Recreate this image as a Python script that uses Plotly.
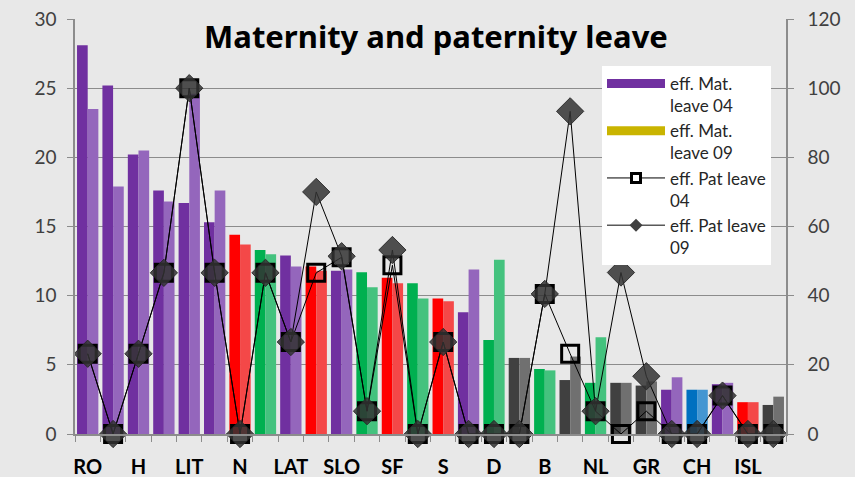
import plotly.graph_objects as go

# ---- data -------------------------------------------------------------
n_cat = 28
tick_labels = ["RO", "H", "LIT", "N", "LAT", "SLO", "SF", "S", "D", "B", "NL", "GR", "CH", "ISL"]
# colour group of each country (P purple, R red, G green, K grey, B blue)
groups = ["P", "P", "P", "P", "P", "P", "R", "G", "P", "R", "P", "G", "R", "G",
          "R", "P", "G", "K", "G", "K", "G", "K", "K", "P", "B", "P", "R", "K"]

mat_leave_04 = [28.1, 25.2, 20.2, 17.6, 16.7, 15.3, 14.4, 13.3, 12.9, 12.1, 11.8, 11.7, 11.3, 10.9,
                9.8, 8.8, 6.8, 5.5, 4.7, 3.9, 3.7, 3.7, 3.5, 3.2, 3.2, 3.6, 2.3, 2.1]
mat_leave_09 = [23.5, 17.9, 20.5, 16.8, 24.6, 17.6, 13.7, 13.0, 12.1, 11.8, 11.9, 10.6, 10.9, 9.8,
                9.6, 11.9, 12.6, 5.5, 4.6, 5.6, 7.0, 3.7, 3.8, 4.1, 3.2, 3.7, 2.3, 2.7]
pat_leave_04 = [23.2, 0, 23.2, 46.6, 100, 46.6, 0, 46.6, 26.6, 46.6, 51.1, 6.6, 48.8, 0,
                26.6, 0, 0, 0, 40.5, 23.2, 6.6, 0, 6.6, 0, 0, 11.1, 0, 0]
pat_leave_09 = [23.2, 0, 23.2, 46.6, 100, 46.6, 0, 46.6, 26.6, 70.0, 51.4, 6.6, 53.2, 0,
                26.6, 0, 0, 0, 40.5, 93.3, 6.6, 46.7, 16.7, 0, 0, 11.1, 0, 0]

# ---- styles -----------------------------------------------------------
dark = {"P": "#7030A0", "R": "#FF0000", "G": "#00B050", "K": "#404040", "B": "#0070C0"}
light = {"P": "#9466BC", "R": "#F44848", "G": "#44C27E", "K": "#707070", "B": "#4496D2"}
FONT = "Lato"
GRID = "#8c8c8c"
BG = "#e8e8e8"

x = list(range(n_cat))
fig = go.Figure()

fig.add_trace(go.Bar(x=x, y=mat_leave_04, name="eff. Mat.<br>leave 04",
                     marker=dict(color=[dark[g] for g in groups], line=dict(width=0)),
                     showlegend=False))
fig.add_trace(go.Bar(x=x, y=mat_leave_09, name="eff. Mat.<br>leave 09",
                     marker=dict(color=[light[g] for g in groups], line=dict(width=0)),
                     showlegend=False))

fig.add_trace(go.Scatter(x=x, y=pat_leave_04, yaxis="y2", mode="lines+markers",
                         name="eff. Pat leave<br>04", showlegend=False, cliponaxis=False,
                         line=dict(color="black", width=1),
                         marker=dict(symbol="square", size=17, color="rgba(0,0,0,0)",
                                     line=dict(color="black", width=3))))
fig.add_trace(go.Scatter(x=x, y=pat_leave_09, yaxis="y2", mode="lines+markers",
                         name="eff. Pat leave<br>09", showlegend=False, cliponaxis=False,
                         line=dict(color="black", width=1),
                         marker=dict(symbol="diamond", size=21, color="rgba(50,50,50,0.85)",
                                     line=dict(color="rgba(40,40,40,0.9)", width=1))))

# legend entries (as in the original legend)
fig.add_trace(go.Scatter(x=[None], y=[None], mode="lines", name="eff. Mat.<br>leave 04",
                         line=dict(color="#7030A0", width=9)))
fig.add_trace(go.Scatter(x=[None], y=[None], mode="lines", name="eff. Mat.<br>leave 09",
                         line=dict(color="#C9B400", width=9)))
fig.add_trace(go.Scatter(x=[None], y=[None], mode="lines+markers", name="eff. Pat leave<br>04",
                         line=dict(color="black", width=1),
                         marker=dict(symbol="square", size=9, color="white",
                                     line=dict(color="black", width=3))))
fig.add_trace(go.Scatter(x=[None], y=[None], mode="lines+markers", name="eff. Pat leave<br>09",
                         line=dict(color="#595959", width=1.5),
                         marker=dict(symbol="diamond", size=10, color="#404040",
                                     line=dict(color="#404040", width=0))))

fig.update_layout(
    width=855, height=477,
    margin=dict(l=75, r=69, t=19, b=43, autoexpand=False),
    paper_bgcolor=BG, plot_bgcolor=BG,
    barmode="group", bargap=0.16, bargroupgap=0,
    font=dict(family=FONT, color="#404040"),
    title=dict(text="<b>Maternity and paternity leave</b>", x=436 / 855, xanchor="center",
               y=1 - 37 / 477, yanchor="middle",
               font=dict(size=31, color="black", family="Noto Sans")),
    legend=dict(x=(602 - 75) / 711, y=(434 - 66) / 415, xanchor="left", yanchor="top",
                bgcolor="white", borderwidth=0, font=dict(size=17, color="#262626", family=FONT),
                valign="top", tracegroupgap=0, itemwidth=58),
    xaxis=dict(range=[-0.5, n_cat - 0.5], tickmode="array", automargin=False,
               tickvals=list(range(0, n_cat, 2)), ticktext=tick_labels, ticks="",
               tickfont=dict(size=20, color="black", family=FONT, weight="bold"),
               ticklabelstandoff=14,
               showline=True, linecolor=GRID, linewidth=1.5, showgrid=False, zeroline=False,
               minor=dict(tickmode="array", tickvals=[i - 0.5 for i in range(n_cat + 1)],
                          ticks="outside", ticklen=6, tickcolor=GRID, tickwidth=1.3,
                          showgrid=False)),
    yaxis=dict(range=[0, 30], dtick=5, showgrid=True, gridcolor=GRID, gridwidth=1.3,
               showline=True, linecolor=GRID, linewidth=1.5, zeroline=False, automargin=False,
               ticks="outside", ticklen=6, tickcolor=GRID, tickwidth=1.3,
               tickfont=dict(size=19, color="#404040", family=FONT), ticklabelstandoff=7),
    yaxis2=dict(range=[0, 120], dtick=20, overlaying="y", side="right", showgrid=False,
                showline=True, linecolor=GRID, linewidth=1.5, zeroline=False, automargin=False,
                ticks="outside", ticklen=6, tickcolor=GRID, tickwidth=1.3,
                tickfont=dict(size=19, color="#404040", family=FONT), ticklabelstandoff=10),
)

fig.write_html("out.html", config={"displayModeBar": False},
               post_script="document.body.style.margin='0';")
